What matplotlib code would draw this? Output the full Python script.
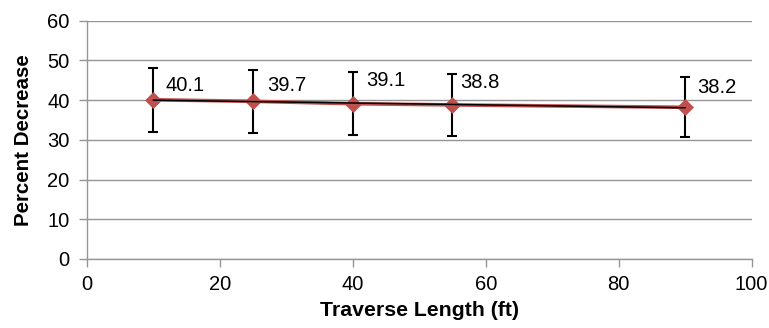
import matplotlib
matplotlib.use("Agg")
import matplotlib.pyplot as plt
import numpy as np

plt.rcParams['font.family'] = ['Liberation Sans', 'DejaVu Sans']

lengths = [10, 25, 40, 55, 90]
decrease = [40.1, 39.7, 39.1, 38.8, 38.2]
errors = [8.0, 8.0, 7.9, 7.8, 7.6]
labels = ["40.1", "39.7", "39.1", "38.8", "38.2"]

# label placement offsets (points)
label_offsets = [(9, 6.5), (9.9, 7.5), (10, 12.8), (5.4, 12.2), (9.1, 10)]

fig = plt.figure(figsize=(7.69, 3.28), dpi=100)
ax = fig.add_axes([87/769, 1 - 259/328, (751.5 - 87)/769, (259 - 20.7)/328])

grid_c = '#959595'
ax.set_xlim(0, 100)
ax.set_ylim(0, 60)
ax.set_xticks([0, 20, 40, 60, 80, 100])
ax.set_yticks([0, 10, 20, 30, 40, 50, 60])
ax.yaxis.grid(True, color=grid_c, linewidth=1)
ax.set_axisbelow(True)
for s in ['top', 'right']:
    ax.spines[s].set_visible(False)
for s in ['left', 'bottom']:
    ax.spines[s].set_color(grid_c)
    ax.spines[s].set_linewidth(1)
ax.tick_params(axis='y', direction='out', length=6, color=grid_c, width=1,
               labelsize=14.5, pad=6.5)
ax.tick_params(axis='x', direction='out', length=5.5, color=grid_c, width=1,
               labelsize=14.5, pad=6)

ax.errorbar(lengths, decrease, yerr=errors, fmt='none', ecolor='black',
            elinewidth=1.5, capsize=3.8, capthick=1.5, zorder=2)
ax.plot(lengths, decrease, color='#C0504D', linewidth=2.6, marker='D',
        markersize=8.2, markerfacecolor='#C0504D', markeredgecolor='#C0504D',
        markeredgewidth=0.5, zorder=3)

coef = np.polyfit(lengths, decrease, 1)
xs = np.array([min(lengths), max(lengths)])
ax.plot(xs, np.polyval(coef, xs), color='black', linewidth=1.1, zorder=4)

for x, y, t, off in zip(lengths, decrease, labels, label_offsets):
    ax.annotate(t, (x, y), xytext=off, textcoords='offset points',
                fontsize=14.5, ha='left', va='baseline')

ax.set_xlabel('Traverse Length (ft)', fontsize=15.3, fontweight='bold', labelpad=5)
ax.set_ylabel('Percent Decrease', fontsize=14.8, fontweight='bold', labelpad=10)

fig.savefig('out.png', dpi=100)
